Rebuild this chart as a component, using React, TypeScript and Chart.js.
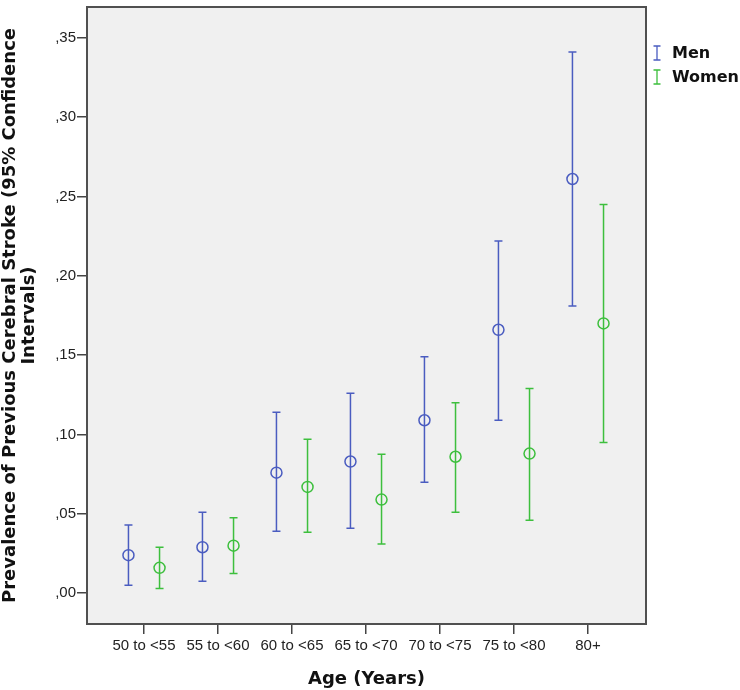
import React, { useEffect, useRef } from "react";
import { Chart, registerables } from "chart.js";

Chart.register(...registerables);

const categories = ["50 to <55", "55 to <60", "60 to <65", "65 to <70", "70 to <75", "75 to <80", "80+"];
const menMean = [0.024, 0.029, 0.076, 0.083, 0.109, 0.166, 0.261];
const menLower = [0.005, 0.0075, 0.039, 0.041, 0.07, 0.109, 0.181];
const menUpper = [0.043, 0.051, 0.114, 0.126, 0.149, 0.222, 0.341];
const womenMean = [0.016, 0.03, 0.067, 0.059, 0.086, 0.088, 0.17];
const womenLower = [0.003, 0.0125, 0.0385, 0.031, 0.051, 0.046, 0.095];
const womenUpper = [0.029, 0.0475, 0.097, 0.0875, 0.12, 0.129, 0.245];
const yTicks = [0, 0.05, 0.1, 0.15, 0.2, 0.25, 0.3, 0.35];

const MEN_COLOR = "#4a5cc0";
const WOMEN_COLOR = "#3dbf3d";
const OFFSET = 0.21;

const series = [
  { label: "Men", color: MEN_COLOR, mean: menMean, lower: menLower, upper: menUpper, dx: -OFFSET },
  { label: "Women", color: WOMEN_COLOR, mean: womenMean, lower: womenLower, upper: womenUpper, dx: OFFSET },
];

const decorPlugin = {
  id: "decor",
  beforeDraw(chart: any) {
    const { ctx, chartArea: a } = chart;
    ctx.save();
    ctx.fillStyle = "#f0f0f0";
    ctx.fillRect(a.left, a.top, a.right - a.left, a.bottom - a.top);
    ctx.restore();
  },
  beforeDatasetsDraw(chart: any) {
    const { ctx, scales } = chart;
    const xs = scales.x;
    const ys = scales.y;
    ctx.save();
    ctx.lineWidth = 1.5;
    series.forEach((s) => {
      ctx.strokeStyle = s.color;
      s.mean.forEach((_, i) => {
        const x = xs.getPixelForValue(i + 1 + s.dx);
        const yl = ys.getPixelForValue(s.lower[i]);
        const yu = ys.getPixelForValue(s.upper[i]);
        ctx.beginPath();
        ctx.moveTo(x, yl);
        ctx.lineTo(x, yu);
        ctx.moveTo(x - 4, yl);
        ctx.lineTo(x + 4, yl);
        ctx.moveTo(x - 4, yu);
        ctx.lineTo(x + 4, yu);
        ctx.stroke();
      });
    });
    ctx.restore();
  },
  afterDraw(chart: any) {
    const { ctx, chartArea: a } = chart;
    ctx.save();
    ctx.strokeStyle = "#505050";
    ctx.lineWidth = 2;
    ctx.strokeRect(a.left, a.top, a.right - a.left, a.bottom - a.top);
    // legend
    const lx = a.right + 11;
    let ly = a.top + 46;
    ctx.font = "bold 16px 'DejaVu Sans'";
    ctx.textBaseline = "middle";
    series.forEach((s) => {
      ctx.strokeStyle = s.color;
      ctx.lineWidth = 1.3;
      ctx.beginPath();
      ctx.moveTo(lx, ly - 7);
      ctx.lineTo(lx, ly + 7);
      ctx.moveTo(lx - 3.5, ly - 7);
      ctx.lineTo(lx + 3.5, ly - 7);
      ctx.moveTo(lx - 3.5, ly + 7);
      ctx.lineTo(lx + 3.5, ly + 7);
      ctx.stroke();
      ctx.fillStyle = "#111";
      ctx.textAlign = "left";
      ctx.fillText(s.label, lx + 15, ly + 1);
      ly += 24;
    });
    ctx.restore();
  },
};

export default function App() {
  const ref = useRef<HTMLCanvasElement | null>(null);
  useEffect(() => {
    if (!ref.current) return;
    const tickFont = { family: "'Liberation Sans', Arial", size: 15 };
    const chart = new Chart(ref.current, {
      type: "scatter",
      data: {
        datasets: series.map((s) => ({
          label: s.label,
          data: s.mean.map((v, i) => ({ x: i + 1 + s.dx, y: v })),
          borderColor: s.color,
          backgroundColor: "transparent",
          pointRadius: 5.5,
          pointBorderWidth: 1.5,
          pointStyle: "circle",
        })),
      },
      options: {
        responsive: false,
        animation: false,
        devicePixelRatio: 1,
        layout: { padding: { top: 2, right: 94, left: 0, bottom: 0 } },
        plugins: { legend: { display: false }, tooltip: { enabled: false } },
        scales: {
          x: {
            type: "linear",
            min: 0.2297,
            max: 7.784,
            afterBuildTicks: (s: any) => {
              s.ticks = categories.map((_, i) => ({ value: i + 1 }));
            },
            afterFit: (s: any) => {
              s.height = 66;
              s.paddingLeft = 0;
              s.paddingRight = 0;
            },
            ticks: {
              callback: (v: any) => categories[Math.round(v) - 1] ?? "",
              font: tickFont,
              color: "#222",
              padding: 3,
              maxRotation: 0,
              autoSkip: false,
            },
            grid: { display: true, drawOnChartArea: false, drawTicks: true, tickLength: 10, color: "#444", lineWidth: 1.5 },
            border: { display: false },
            title: {
              display: true,
              text: "Age (Years)",
              font: { family: "'DejaVu Sans'", size: 18, weight: "bold", lineHeight: 1.1 },
              color: "#111",
              padding: { top: 0, bottom: 1 },
            },
          },
          y: {
            type: "linear",
            min: -0.019375,
            max: 0.369375,
            afterBuildTicks: (s: any) => {
              s.ticks = yTicks.map((v) => ({ value: v }));
            },
            afterFit: (s: any) => {
              s.width = 87;
              s.paddingTop = 0;
              s.paddingBottom = 0;
            },
            ticks: {
              callback: (v: any) => "," + Number(v).toFixed(2).split(".")[1],
              font: tickFont,
              color: "#222",
              padding: 1,
            },
            grid: { display: true, drawOnChartArea: false, drawTicks: true, tickLength: 10, color: "#444", lineWidth: 1.5 },
            border: { display: false },
            title: {
              display: true,
              text: ["Prevalence of Previous Cerebral Stroke (95% Confidence", "Intervals)"],
              font: { family: "'DejaVu Sans'", size: 18, weight: "bold", lineHeight: 1.1 },
              color: "#111",
              padding: { top: 0, bottom: 0 },
            },
          },
        },
      },
      plugins: [decorPlugin],
    } as any);
    return () => chart.destroy();
  }, []);
  return (
    <div style={{ position: "absolute", left: 0, top: 0, width: 740, height: 690, background: "#fff" }}>
      <canvas ref={ref} width={740} height={690} style={{ display: "block" }} />
    </div>
  );
}
